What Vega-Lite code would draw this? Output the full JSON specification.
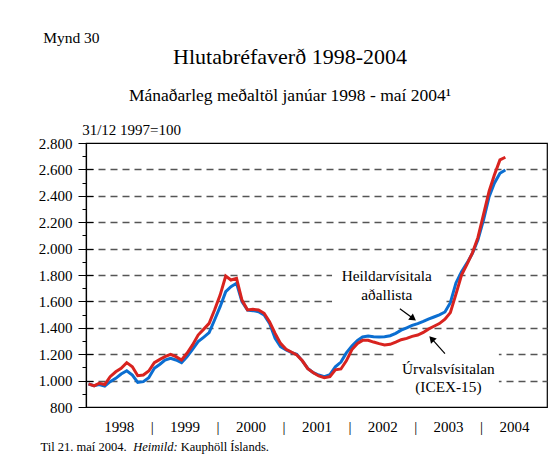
{
  "$schema": "https://vega.github.io/schema/vega-lite/v6.json",
  "width": 461,
  "height": 264,
  "autosize": {"type": "none"},
  "padding": {"left": 86, "top": 143, "right": 12, "bottom": 51},
  "background": "white",
  "config": {
    "font": "Liberation Serif",
    "view": {"stroke": "black", "strokeWidth": 1.2}
  },
  "title": {
    "text": "Hlutabréfaverð 1998-2004",
    "subtitle": "Mánaðarleg meðaltöl janúar 1998 - maí 2004¹",
    "anchor": "middle",
    "frame": "group",
    "dx": -26.5,
    "offset": -75,
    "font": "Liberation Serif",
    "fontSize": 22,
    "fontWeight": "normal",
    "color": "black",
    "subtitleFont": "Liberation Serif",
    "subtitleFontSize": 17.5,
    "subtitleColor": "black",
    "subtitlePadding": 18
  },
  "datasets": {
    "idx": [
      {"date": "1998-01-15", "heild": 974, "urval": 975},
      {"date": "1998-02-15", "heild": 962, "urval": 960},
      {"date": "1998-03-15", "heild": 970, "urval": 980},
      {"date": "1998-04-15", "heild": 959, "urval": 970},
      {"date": "1998-05-15", "heild": 992, "urval": 1030},
      {"date": "1998-06-15", "heild": 1017, "urval": 1067},
      {"date": "1998-07-15", "heild": 1050, "urval": 1093},
      {"date": "1998-08-15", "heild": 1075, "urval": 1136},
      {"date": "1998-09-15", "heild": 1042, "urval": 1105},
      {"date": "1998-10-15", "heild": 987, "urval": 1037},
      {"date": "1998-11-15", "heild": 992, "urval": 1042},
      {"date": "1998-12-15", "heild": 1022, "urval": 1073},
      {"date": "1999-01-15", "heild": 1093, "urval": 1136},
      {"date": "1999-02-15", "heild": 1124, "urval": 1161},
      {"date": "1999-03-15", "heild": 1156, "urval": 1181},
      {"date": "1999-04-15", "heild": 1169, "urval": 1199},
      {"date": "1999-05-15", "heild": 1156, "urval": 1181},
      {"date": "1999-06-15", "heild": 1136, "urval": 1156},
      {"date": "1999-07-15", "heild": 1181, "urval": 1207},
      {"date": "1999-08-15", "heild": 1237, "urval": 1270},
      {"date": "1999-09-15", "heild": 1295, "urval": 1345},
      {"date": "1999-10-15", "heild": 1328, "urval": 1388},
      {"date": "1999-11-15", "heild": 1363, "urval": 1434},
      {"date": "1999-12-15", "heild": 1459, "urval": 1535},
      {"date": "2000-01-15", "heild": 1560, "urval": 1648},
      {"date": "2000-02-15", "heild": 1674, "urval": 1792},
      {"date": "2000-03-15", "heild": 1712, "urval": 1762},
      {"date": "2000-04-15", "heild": 1737, "urval": 1775},
      {"date": "2000-05-15", "heild": 1598, "urval": 1610},
      {"date": "2000-06-15", "heild": 1535, "urval": 1535},
      {"date": "2000-07-15", "heild": 1530, "urval": 1540},
      {"date": "2000-08-15", "heild": 1522, "urval": 1535},
      {"date": "2000-09-15", "heild": 1497, "urval": 1510},
      {"date": "2000-10-15", "heild": 1434, "urval": 1446},
      {"date": "2000-11-15", "heild": 1320, "urval": 1358},
      {"date": "2000-12-15", "heild": 1257, "urval": 1282},
      {"date": "2001-01-15", "heild": 1232, "urval": 1237},
      {"date": "2001-02-15", "heild": 1212, "urval": 1215},
      {"date": "2001-03-15", "heild": 1200, "urval": 1195},
      {"date": "2001-04-15", "heild": 1150, "urval": 1150},
      {"date": "2001-05-15", "heild": 1092, "urval": 1090},
      {"date": "2001-06-15", "heild": 1060, "urval": 1060},
      {"date": "2001-07-15", "heild": 1042, "urval": 1035},
      {"date": "2001-08-15", "heild": 1030, "urval": 1022},
      {"date": "2001-09-15", "heild": 1045, "urval": 1030},
      {"date": "2001-10-15", "heild": 1105, "urval": 1082},
      {"date": "2001-11-15", "heild": 1140, "urval": 1088},
      {"date": "2001-12-15", "heild": 1210, "urval": 1150},
      {"date": "2002-01-15", "heild": 1262, "urval": 1235},
      {"date": "2002-02-15", "heild": 1305, "urval": 1282},
      {"date": "2002-03-15", "heild": 1330, "urval": 1305},
      {"date": "2002-04-15", "heild": 1338, "urval": 1305},
      {"date": "2002-05-15", "heild": 1332, "urval": 1292},
      {"date": "2002-06-15", "heild": 1330, "urval": 1280},
      {"date": "2002-07-15", "heild": 1333, "urval": 1270},
      {"date": "2002-08-15", "heild": 1340, "urval": 1275},
      {"date": "2002-09-15", "heild": 1358, "urval": 1292},
      {"date": "2002-10-15", "heild": 1382, "urval": 1310},
      {"date": "2002-11-15", "heild": 1400, "urval": 1320},
      {"date": "2002-12-15", "heild": 1418, "urval": 1335},
      {"date": "2003-01-15", "heild": 1432, "urval": 1345},
      {"date": "2003-02-15", "heild": 1448, "urval": 1365},
      {"date": "2003-03-15", "heild": 1466, "urval": 1390},
      {"date": "2003-04-15", "heild": 1482, "urval": 1412},
      {"date": "2003-05-15", "heild": 1498, "urval": 1432},
      {"date": "2003-06-15", "heild": 1520, "urval": 1465},
      {"date": "2003-07-15", "heild": 1590, "urval": 1515},
      {"date": "2003-08-15", "heild": 1740, "urval": 1655},
      {"date": "2003-09-15", "heild": 1825, "urval": 1800},
      {"date": "2003-10-15", "heild": 1890, "urval": 1880},
      {"date": "2003-11-15", "heild": 1965, "urval": 1970},
      {"date": "2003-12-15", "heild": 2066, "urval": 2085},
      {"date": "2004-01-15", "heild": 2217, "urval": 2260},
      {"date": "2004-02-15", "heild": 2394, "urval": 2435},
      {"date": "2004-03-15", "heild": 2495, "urval": 2558},
      {"date": "2004-04-15", "heild": 2571, "urval": 2672},
      {"date": "2004-05-15", "heild": 2596, "urval": 2692}
    ],
    "notes": [
      {"name": "heild", "date": "2002-07-27", "value": 1755, "label": "Heildarvísitala\naðallista"},
      {"name": "urval", "date": "2003-07-04", "value": 1053, "label": "Úrvalsvísitalan\n(ICEX-15)"}
    ],
    "arrows": [
      {"name": "heild", "date": "2002-10-08", "value": 1545, "date2": "2002-12-21", "value2": 1470},
      {"name": "urval", "date": "2003-06-15", "value": 1205, "date2": "2003-04-02", "value2": 1318}
    ]
  },
  "resolve": {"axis": {"x": "independent", "y": "independent"}},
  "layer": [
    {
      "data": {"name": "notes"},
      "mark": {"type": "point", "filled": true, "color": "white", "opacity": 1, "strokeWidth": 0, "size": 10000},
      "encoding": {
        "x": {
          "field": "date",
          "type": "temporal",
          "scale": {
            "type": "utc",
            "domain": [
              {"year": 1998, "month": 1, "date": 1, "utc": true},
              {"year": 2005, "month": 1, "date": 1, "utc": true}
            ]
          },
          "axis": null
        },
        "y": {
          "field": "value",
          "type": "quantitative",
          "scale": {"domain": [800, 2800], "nice": false, "zero": false},
          "axis": {
            "orient": "left",
            "values": [800, 1000, 1200, 1400, 1600, 1800, 2000, 2200, 2400, 2600, 2800],
            "labels": false,
            "domain": false,
            "grid": false,
            "tickSize": -7,
            "tickColor": "black",
            "tickWidth": 1,
            "title": null
          }
        },
        "shape": {
          "condition": {"test": "datum.name === 'heild'", "value": "M-1.094,-0.294L1.186,-0.294L1.186,0.486L-1.094,0.486Z"},
          "value": "M-1.01,-0.446L1.01,-0.446L1.01,0.454L-1.01,0.454Z"
        }
      }
    },
    {
      "data": {"name": "idx"},
      "mark": {"type": "line", "color": "#0b6ed1", "strokeWidth": 3},
      "encoding": {
        "x": {
          "field": "date",
          "type": "temporal",
          "axis": {
            "orient": "bottom",
            "values": [
              {"year": 1998, "month": 7, "date": 2, "utc": true},
              {"year": 1999, "month": 1, "date": 1, "utc": true},
              {"year": 1999, "month": 7, "date": 2, "utc": true},
              {"year": 2000, "month": 1, "date": 1, "utc": true},
              {"year": 2000, "month": 7, "date": 2, "utc": true},
              {"year": 2001, "month": 1, "date": 1, "utc": true},
              {"year": 2001, "month": 7, "date": 2, "utc": true},
              {"year": 2002, "month": 1, "date": 1, "utc": true},
              {"year": 2002, "month": 7, "date": 2, "utc": true},
              {"year": 2003, "month": 1, "date": 1, "utc": true},
              {"year": 2003, "month": 7, "date": 2, "utc": true},
              {"year": 2004, "month": 1, "date": 1, "utc": true},
              {"year": 2004, "month": 7, "date": 2, "utc": true}
            ],
            "labelExpr": "utcmonth(datum.value) == 0 ? '|' : utcFormat(datum.value, '%Y')",
            "ticks": false,
            "domain": false,
            "grid": false,
            "labelFont": "Liberation Serif",
            "labelFontSize": 15,
            "labelColor": "black",
            "labelPadding": 12,
            "labelOverlap": false,
            "labelFlush": false,
            "title": "Til 21. maí 2004.",
            "titleFont": "Liberation Serif",
            "titleFontSize": 12.5,
            "titleFontWeight": "normal",
            "titleColor": "black",
            "titleAngle": 0,
            "titleAlign": "left",
            "titleBaseline": "alphabetic",
            "titleX": -46,
            "titleY": 43
          }
        },
        "y": {
          "field": "heild",
          "type": "quantitative",
          "axis": {
            "orient": "left",
            "values": [800, 1000, 1200, 1400, 1600, 1800, 2000, 2200, 2400, 2600, 2800],
            "labelExpr": "replace(format(datum.value, ','), ',', '.')",
            "tickSize": 8,
            "tickColor": "black",
            "tickWidth": 1,
            "domainColor": "black",
            "domainWidth": 1.2,
            "grid": true,
            "gridDash": [7, 5],
            "gridColor": "#555555",
            "gridWidth": 1.3,
            "gridOpacity": {"condition": {"test": "datum.value > 800 && datum.value < 2800", "value": 1}, "value": 0},
            "labelFont": "Liberation Serif",
            "labelFontSize": 15,
            "labelColor": "black",
            "labelPadding": 6,
            "labelOverlap": false,
            "labelFlush": false,
            "title": "31/12 1997=100",
            "titleFont": "Liberation Serif",
            "titleFontSize": 15,
            "titleFontWeight": "normal",
            "titleColor": "black",
            "titleAngle": 0,
            "titleAlign": "left",
            "titleBaseline": "alphabetic",
            "titleX": -4.3,
            "titleY": -8.4
          }
        }
      }
    },
    {
      "data": {"name": "idx"},
      "mark": {"type": "line", "color": "#d8231f", "strokeWidth": 3},
      "encoding": {
        "x": {"field": "date", "type": "temporal", "axis": null},
        "y": {
          "field": "urval",
          "type": "quantitative",
          "axis": {
            "orient": "left",
            "values": [900, 1100, 1300, 1500, 1700, 1900, 2100, 2300, 2500, 2700],
            "labels": false,
            "domain": false,
            "grid": false,
            "tickSize": 4,
            "tickColor": "black",
            "tickWidth": 1,
            "title": null
          }
        }
      }
    },
    {
      "data": {"name": "notes"},
      "mark": {"type": "text", "align": "center", "baseline": "alphabetic", "font": "Liberation Serif", "fontSize": 15.3, "lineHeight": 18.6, "lineBreak": "\n", "color": "black"},
      "encoding": {
        "x": {
          "field": "date",
          "type": "temporal",
          "axis": {
            "orient": "top",
            "labels": false,
            "ticks": false,
            "domain": false,
            "grid": false,
            "title": "Mynd 30",
            "titleFont": "Liberation Serif",
            "titleFontSize": 15.5,
            "titleFontWeight": "normal",
            "titleColor": "black",
            "titleAngle": 0,
            "titleAlign": "left",
            "titleBaseline": "alphabetic",
            "titleX": -43.3,
            "titleY": -101
          }
        },
        "y": {"field": "value", "type": "quantitative", "axis": null},
        "text": {"field": "label"}
      }
    },
    {
      "data": {"name": "arrows"},
      "mark": {"type": "rule", "color": "black", "strokeWidth": 1.2},
      "encoding": {
        "x": {
          "field": "date",
          "type": "temporal",
          "axis": {
            "orient": "bottom",
            "labels": false,
            "ticks": false,
            "domain": false,
            "grid": false,
            "title": "Heimild:",
            "titleFont": "Liberation Serif",
            "titleFontSize": 12.5,
            "titleFontWeight": "normal",
            "titleFontStyle": "italic",
            "titleColor": "black",
            "titleAngle": 0,
            "titleAlign": "left",
            "titleBaseline": "alphabetic",
            "titleX": 46.7,
            "titleY": 43
          }
        },
        "x2": {"field": "date2"},
        "y": {"field": "value", "type": "quantitative", "axis": null},
        "y2": {"field": "value2"}
      }
    },
    {
      "data": {"name": "arrows"},
      "mark": {"type": "point", "shape": "triangle-up", "filled": true, "color": "black", "size": 60, "opacity": 1},
      "encoding": {
        "x": {
          "field": "date2",
          "type": "temporal",
          "axis": {
            "orient": "bottom",
            "labels": false,
            "ticks": false,
            "domain": false,
            "grid": false,
            "title": "Kauphöll Íslands.",
            "titleFont": "Liberation Serif",
            "titleFontSize": 12.5,
            "titleFontWeight": "normal",
            "titleColor": "black",
            "titleAngle": 0,
            "titleAlign": "left",
            "titleBaseline": "alphabetic",
            "titleX": 94.2,
            "titleY": 43
          }
        },
        "y": {"field": "value2", "type": "quantitative", "axis": null},
        "angle": {"condition": {"test": "datum.name === 'heild'", "value": 127}, "value": 318}
      }
    }
  ]
}
